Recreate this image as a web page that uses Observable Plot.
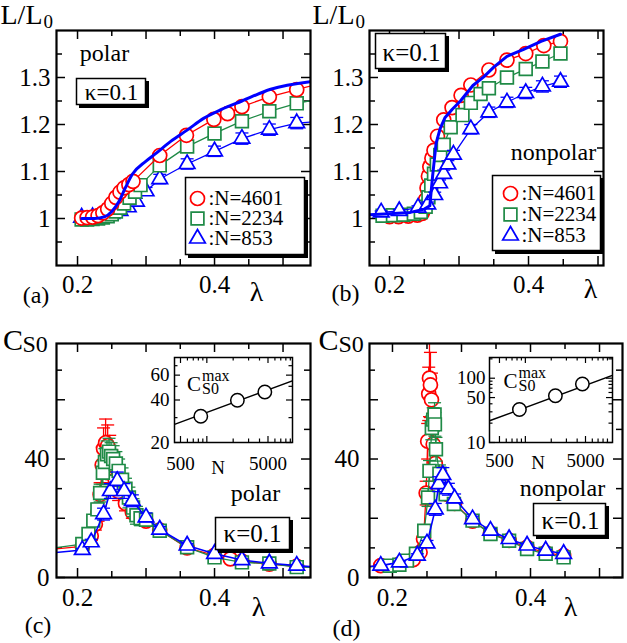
<!DOCTYPE html>
<html><head><meta charset="utf-8">
<script src="https://cdn.jsdelivr.net/npm/d3@7"></script>
<script src="https://cdn.jsdelivr.net/npm/@observablehq/plot@0.6"></script>
<style>
body{margin:0;background:#fff;}
#fig{position:relative;width:627px;height:643px;overflow:hidden;background:#fff;}
</style></head><body><div id="fig"></div>
<script>
// ---------------- data ----------------
// (a) polar, L/L0 vs lambda
const aLam4601 = [0.206,0.214,0.222,0.230,0.237,0.244,0.250,0.256,0.262,0.268,0.275,0.281,0.320,0.359,0.399,0.419,0.440,0.480,0.520,0.560];
const aL4601   = [1.001,1.002,1.003,1.006,1.012,1.020,1.032,1.045,1.056,1.065,1.072,1.079,1.134,1.177,1.211,1.223,1.238,1.259,1.274,1.290];
const aLam2234 = [0.206,0.214,0.222,0.230,0.237,0.244,0.250,0.256,0.262,0.268,0.276,0.284,0.292,0.320,0.360,0.400,0.440,0.480,0.520,0.560];
const aL2234   = [0.998,0.998,0.999,1.000,1.002,1.005,1.009,1.015,1.023,1.032,1.044,1.057,1.071,1.113,1.153,1.181,1.207,1.228,1.245,1.256];
const aLam853  = [0.206,0.222,0.237,0.250,0.262,0.274,0.286,0.300,0.320,0.360,0.400,0.440,0.480,0.520,0.560];
const aL853    = [1.002,1.003,1.005,1.010,1.016,1.024,1.036,1.058,1.084,1.116,1.143,1.170,1.189,1.203,1.207];
const aE853    = [0.002,0.002,0.003,0.004,0.005,0.006,0.007,0.008,0.010,0.011,0.011,0.012,0.012,0.012,0.012];
const aFitLam  = [0.206,0.225,0.240,0.250,0.260,0.270,0.280,0.300,0.315,0.336,0.360,0.384,0.410,0.440,0.482,0.545];
const aFitL    = [1.000,1.000,1.004,1.015,1.035,1.066,1.094,1.122,1.139,1.164,1.188,1.213,1.232,1.250,1.275,1.292];

// (b) nonpolar, L/L0 vs lambda
const bLam4601 = [0.200,0.213,0.227,0.240,0.247,0.250,0.252,0.254,0.256,0.258,0.261,0.264,0.269,0.278,0.290,0.303,0.317,0.343,0.369,0.396,0.422,0.446];
const bL4601   = [1.004,1.004,1.005,1.007,1.011,1.020,1.040,1.065,1.090,1.110,1.128,1.145,1.175,1.210,1.236,1.262,1.284,1.316,1.337,1.351,1.368,1.377];
const bE4601   = [0.002,0.002,0.002,0.003,0.004,0.006,0.008,0.010,0.010,0.010,0.009,0.008,0.007,0.006,0.005,0.004,0.004,0.003,0.003,0.003,0.003,0.003];
const bLam2234 = [0.190,0.205,0.220,0.235,0.245,0.252,0.256,0.260,0.264,0.268,0.273,0.278,0.288,0.305,0.317,0.331,0.343,0.369,0.396,0.420,0.446];
const bL2234   = [1.006,1.007,1.008,1.010,1.014,1.025,1.045,1.070,1.095,1.115,1.135,1.157,1.194,1.220,1.246,1.265,1.277,1.300,1.318,1.334,1.351];
const bLam853  = [0.188,0.214,0.241,0.255,0.265,0.272,0.278,0.284,0.292,0.317,0.343,0.369,0.396,0.420,0.446];
const bL853    = [1.013,1.016,1.023,1.030,1.050,1.075,1.095,1.115,1.136,1.190,1.226,1.247,1.267,1.281,1.291];
const bE853    = [0.003,0.003,0.004,0.005,0.006,0.007,0.008,0.008,0.009,0.010,0.011,0.011,0.012,0.012,0.012];
const bFitLam  = [0.171,0.200,0.230,0.250,0.258,0.262,0.267,0.273,0.280,0.290,0.302,0.320,0.336,0.350,0.369,0.393,0.418,0.446];
const bFitL    = [1.008,1.010,1.013,1.020,1.027,1.090,1.160,1.192,1.215,1.232,1.250,1.283,1.302,1.322,1.345,1.360,1.377,1.392];

// (c) polar, C_S0 vs lambda
const cLam4601 = [0.150,0.207,0.220,0.226,0.230,0.233,0.236,0.238,0.241,0.244,0.247,0.250,0.255,0.260,0.270,0.280,0.300,0.320,0.360,0.400,0.423,0.440,0.480,0.520,0.560];
const cC4601   = [9.3,10.5,14,18,22,28,38,43.5,45.5,44.5,42,38,33,29,25,22,19,16,10,7.5,6.3,5.5,4.5,3.8,3.4];
const cE4601   = [0.3,0.5,1.5,2,3,4,6,7,8,7,6,5,4,3,2.5,2,1.5,1,0.8,0.5,0.5,0.4,0.3,0.3,0.3];
const cLam2234 = [0.150,0.207,0.216,0.223,0.229,0.233,0.237,0.240,0.243,0.246,0.249,0.252,0.256,0.260,0.265,0.270,0.275,0.281,0.286,0.292,0.300,0.320,0.360,0.400,0.440,0.480,0.520,0.560];
const cC2234   = [9.5,11.3,14.7,19.2,23,28.5,35.4,39,41.6,42.5,41,40,38.5,36,33,30,27,23.6,21,20,19.5,15.8,10.2,6.8,5.1,4.7,3.5,3.3];
const cE2234   = [0.3,0.8,1,1.5,2,3,4,4.5,4.5,4.5,4.5,4.5,4,4,4,3.5,3.5,3,3,2.5,2,1.2,0.8,0.6,0.5,0.4,0.4,0.3];
const cLam853  = [0.150,0.207,0.220,0.238,0.248,0.258,0.268,0.280,0.300,0.320,0.360,0.400,0.440,0.480,0.520,0.560];
const cC853    = [8.0,9.3,11.9,21.4,29.2,32.6,29.2,25.9,20.3,16.2,10.8,8.0,5.9,4.8,4.0,3.3];
const cE853    = [0.3,0.5,1,2,2.5,3,2.5,2,1.5,1,0.6,0.5,0.4,0.3,0.3,0.3];

// (d) nonpolar, C_S0 vs lambda
const dLam4601 = [0.150,0.183,0.210,0.230,0.240,0.245,0.2488,0.251,0.2525,0.2536,0.255,0.2565,0.259,0.262,0.270,0.280,0.290,0.316,0.342,0.369,0.395,0.422,0.448];
const dC4601   = [3.4,4.0,4.5,6.0,8.5,13,28.5,46,62,67.3,65,60,45,38.5,33,28,25,19,15,12.5,10.2,8.4,7.4];
const dE4601   = [0.2,0.3,0.4,0.5,1,2,4,6,9,13,11,9,6,4,3,2,1.5,1,0.8,0.5,0.5,0.4,0.3];
const dLam2234 = [0.150,0.196,0.210,0.221,0.234,0.246,0.2515,0.2536,0.257,0.259,0.261,0.2615,0.263,0.268,0.277,0.289,0.316,0.342,0.369,0.395,0.422,0.448];
const dC2234   = [3.4,4.0,4.3,5.7,8.0,15.8,27,36,50.5,53.3,55,51.7,43.3,35,28.1,24.8,19.2,14.7,12.4,9.6,8.0,6.8];
const dE2234   = [0.2,0.3,0.3,0.4,0.6,1.5,3,3.5,4,4,4,4,4,3,2,1.5,1,0.8,0.6,0.5,0.4,0.3];
const dLam853  = [0.150,0.183,0.210,0.236,0.250,0.262,0.267,0.273,0.281,0.290,0.316,0.342,0.369,0.395,0.422,0.448];
const dC853    = [3.4,4.0,5.1,7.4,11.5,23,31.5,34.6,29.8,26.7,19.7,15.8,13.0,10.8,9.1,8.0];
const dE853    = [0.2,0.3,0.4,0.6,1,2,2.5,2.5,2,1.5,1,0.7,0.5,0.5,0.4,0.3];

// insets: C_S0^max vs N
const insetN     = [853, 2234, 4601];
const cMax       = [30.7, 39.8, 45.6];
const cMaxErr    = [1.5, 2.0, 2.0];
const cFitN      = [427, 9530];
const cFitC      = [26.9, 54.8];
const dMax       = [32.6, 53.3, 81.4];
const dMaxErr    = [2.0, 3.0, 4.0];
const dFitN      = [383, 10300];
const dFitC      = [21.8, 111];

// ticks and tick labels
const lamMajor = [0.2,0.3,0.4,0.5], lamMinor = [0.25,0.35,0.45];
const lamLabels = [0.2, 0.4];
const LMajor = [1.0,1.1,1.2,1.3], LMinor = [0.95,1.05,1.15,1.25,1.35];
const LLabels = [1, 1.1, 1.2, 1.3];
const CMajor = [0,20,40,60], CMinor = [10,30,50,70];
const CLabels = [0, 40];
const NMajor = [500,1000,5000], NMinor = [600,700,800,900,2000,3000,4000,6000,7000,8000,9000];
const NLabels = [500, 5000];
const cInYMajor = [20,40,60], cInYMinor = [30,50,70], cInYLabels = [20,40,60];
const dInYMajor = [10,50,100], dInYMinor = [20,30,40,60,70,80,90,200], dInYLabels = [10,50,100];
const legendLabels = [":N=4601", ":N=2234", ":N=853"];

// ---------------- helpers ----------------
const FONT = "Liberation Serif, Times New Roman, serif";
const RED = "#ff0000", GREEN = "#1f8a46", BLUE = "#0000ff";
const fig = document.getElementById("fig");
const cap = {draw(ctx, size){ const r = Math.sqrt(size/Math.PI); ctx.moveTo(-r,0); ctx.lineTo(r,0); }};
const SYM = {circle: ["circle", 7], square: ["square", 7.2], triangle: ["triangle", 5.8]};

function rows(xs, ys, es){ return xs.map((x,i)=>({x, y: ys[i], e: es ? es[i] : 0})); }

function series(xs, ys, es, color, sym, lw=1.3){
  const data = rows(xs, ys, es);
  const m = [Plot.line(data, {x:"x", y:"y", stroke: color, strokeWidth: lw, clip: true})];
  if (es) {
    m.push(Plot.ruleX(data, {x:"x", y1: d=>d.y-d.e, y2: d=>d.y+d.e, stroke: color, strokeWidth: 1.3, clip: true}));
    for (const s of [1,-1]) m.push(Plot.dot(data, {x:"x", y: d=>d.y+s*d.e, symbol: cap, r: 6.5, stroke: color, fill: "none", strokeWidth: 1.3, clip: true}));
  }
  m.push(Plot.dot(data, {x:"x", y:"y", symbol: SYM[sym][0], r: SYM[sym][1], stroke: color, fill: "white", strokeWidth: 1.7, clip: true}));
  return m;
}

function ticks(fw, fh, xMaj, xMin, yMaj, yMin, L=9, l=6, sw=1.5){
  const out = [];
  for (const [arr, len] of [[xMaj, L],[xMin, l]]) {
    out.push(Plot.tickX(arr, {x: d=>d, insetTop: fh-len, stroke:"black", strokeWidth: sw}));
    out.push(Plot.tickX(arr, {x: d=>d, insetBottom: fh-len, stroke:"black", strokeWidth: sw}));
  }
  for (const [arr, len] of [[yMaj, L],[yMin, l]]) {
    out.push(Plot.tickY(arr, {y: d=>d, insetRight: fw-len, stroke:"black", strokeWidth: sw}));
    out.push(Plot.tickY(arr, {y: d=>d, insetLeft: fw-len, stroke:"black", strokeWidth: sw}));
  }
  return out;
}

const TXT = {fontFamily: FONT, fill: "black", lineAnchor: "middle"};
function xLabels(arr, dy, size){ return Plot.text(arr, {x: d=>d, frameAnchor:"bottom", dy, text: d=>String(d), fontSize: size, textAnchor:"middle", ...TXT}); }
function yLabels(arr, dx, size){ return Plot.text(arr, {y: d=>d, frameAnchor:"left", dx, text: d=>String(d), fontSize: size, textAnchor:"end", ...TXT}); }

function makePanel(cfg, build){
  const {left, top, width, height, ml, mr, mt, mb} = cfg;
  const fx = left+ml, fy = top+mt, fw = width-ml-mr, fh = height-mt-mb;
  const T = (s, px, py, size, opts={}) => Plot.text([s], {frameAnchor:"top-left", dx: px-fx, dy: py-fy, text: d=>d, fontSize: size, textAnchor:"middle", ...TXT, ...opts});
  const B = (x1, y1, x2, y2, sh=3) => [
    Plot.frame({insetLeft: x1-fx+sh, insetTop: y1-fy+sh, insetRight: fx+fw-x2-sh, insetBottom: fy+fh-y2-sh, fill:"black", stroke:"black"}),
    Plot.frame({insetLeft: x1-fx, insetTop: y1-fy, insetRight: fx+fw-x2, insetBottom: fy+fh-y2, fill:"white", stroke:"black", strokeWidth: 1.5})
  ];
  const D = (px, py, sym, color) => Plot.dot([0], {frameAnchor:"top-left", dx: px-fx, dy: py-fy, symbol: SYM[sym][0], r: SYM[sym][1], stroke: color, fill:"white", strokeWidth: 1.7});
  const marks = build({fw, fh, T, B, D});
  const svg = Plot.plot({
    width, height, marginLeft: ml, marginRight: mr, marginTop: mt, marginBottom: mb,
    x: {type: cfg.xType || "linear", domain: cfg.xdom, axis: null},
    y: {type: cfg.yType || "linear", domain: cfg.ydom, axis: null},
    style: {background: "transparent", fontFamily: FONT, overflow: "visible"},
    marks
  });
  svg.style.position = "absolute"; svg.style.left = left+"px"; svg.style.top = top+"px";
  fig.appendChild(svg);
}

function legendMarks(T, D, mx, tx, ys, size){
  const syms = ["circle","square","triangle"], cols = [RED, GREEN, BLUE];
  const out = [];
  ys.forEach((y,i) => { out.push(D(mx, y, syms[i], cols[i])); out.push(T(legendLabels[i], tx, y, size, {textAnchor:"start"})); });
  return out;
}

// ---------------- panel (a) ----------------
makePanel({left:0, top:0, width:312, height:320, ml:56, mr:2, mt:30, mb:55, xdom:[0.1693,0.5401], ydom:[0.9,1.4]}, ({fw,fh,T,B,D}) => [
  ...ticks(fw, fh, lamMajor, lamMinor, LMajor, LMinor),
  ...series(aLam853, aL853, aE853, BLUE, "triangle"),
  ...series(aLam2234, aL2234, null, GREEN, "square"),
  ...series(aLam4601, aL4601, null, RED, "circle"),
  Plot.line(rows(aFitLam, aFitL), {x:"x", y:"y", stroke: BLUE, strokeWidth: 3, curve:"monotone-x", clip: true}),
  xLabels(lamLabels, 19, 25),
  yLabels(LLabels, -6, 25),
  T("L/L", 0, 15, 28, {textAnchor:"start"}),
  T("0", 43, 21, 19, {textAnchor:"start"}),
  T("λ", 256, 292, 28),
  T("(a)", 35.5, 295, 24),
  T("polar", 104, 53, 24),
  ...B(76, 78, 145, 104),
  T("κ=0.1", 111, 92, 23),
  ...B(185, 177, 304, 254),
  ...legendMarks(T, D, 197, 208, [198, 218, 238], 21),
  Plot.frame({stroke:"black", strokeWidth: 2.2})
]);

// ---------------- panel (b) ----------------
makePanel({left:312, top:0, width:315, height:320, ml:57, mr:24, mt:30, mb:55, xdom:[0.1712,0.5079], ydom:[0.9,1.4]}, ({fw,fh,T,B,D}) => [
  ...ticks(fw, fh, lamMajor, lamMinor, LMajor, LMinor),
  ...series(bLam4601, bL4601, bE4601, RED, "circle"),
  ...series(bLam2234, bL2234, null, GREEN, "square"),
  ...series(bLam853, bL853, bE853, BLUE, "triangle"),
  Plot.line(rows(bFitLam, bFitL), {x:"x", y:"y", stroke: BLUE, strokeWidth: 3, clip: true}),
  xLabels(lamLabels, 19, 25),
  yLabels(LLabels, -6, 25),
  T("L/L", 312, 15, 28, {textAnchor:"start"}),
  T("0", 355, 21, 19, {textAnchor:"start"}),
  T("λ", 590, 289, 28),
  T("(b)", 345, 293, 24),
  T("nonpolar", 553, 152, 24),
  ...B(375, 33, 445, 68),
  T("κ=0.1", 411, 52, 25),
  ...B(492, 175, 600, 250),
  ...legendMarks(T, D, 510, 521, [193, 214, 235], 21),
  Plot.frame({stroke:"black", strokeWidth: 2.2})
]);

// ---------------- panel (c) ----------------
makePanel({left:0, top:320, width:312, height:323, ml:56, mr:2, mt:23, mb:66, xdom:[0.1693,0.5401], ydom:[0,79]}, ({fw,fh,T,B,D}) => [
  ...ticks(fw, fh, lamMajor, lamMinor, CMajor, CMinor),
  ...series(cLam4601, cC4601, cE4601, RED, "circle"),
  ...series(cLam2234, cC2234, cE2234, GREEN, "square"),
  ...series(cLam853, cC853, cE853, BLUE, "triangle", 1.6),
  xLabels(lamLabels, 20, 25),
  yLabels(CLabels, -7, 25),
  T("C", 12.5, 340, 30),
  T("S0", 22, 344, 24, {textAnchor:"start"}),
  T("λ", 258, 607, 28),
  T("(c)", 37.5, 625, 24),
  T("polar", 255, 493, 24),
  ...B(215, 517, 289, 549),
  T("κ=0.1", 252, 533, 25),
  Plot.frame({stroke:"black", strokeWidth: 2.2})
]);

// ---------------- panel (d) ----------------
makePanel({left:312, top:320, width:315, height:323, ml:57, mr:5, mt:23, mb:66, xdom:[0.1667,0.5333], ydom:[0,79]}, ({fw,fh,T,B,D}) => [
  ...ticks(fw, fh, lamMajor, lamMinor, CMajor, CMinor),
  ...series(dLam4601, dC4601, dE4601, RED, "circle"),
  ...series(dLam2234, dC2234, dE2234, GREEN, "square"),
  ...series(dLam853, dC853, dE853, BLUE, "triangle", 1.6),
  xLabels(lamLabels, 20, 25),
  yLabels(CLabels, -10, 25),
  T("C", 328, 340, 30),
  T("S0", 338, 344, 24, {textAnchor:"start"}),
  T("λ", 570, 607, 28),
  T("(d)", 346, 628, 24),
  T("nonpolar", 562, 488, 24),
  ...B(533, 503, 605, 535),
  T("κ=0.1", 570, 520, 25),
  Plot.frame({stroke:"black", strokeWidth: 2.2})
]);

// ---------------- insets ----------------
function inset(cfg, maxV, maxE, fitN, fitC, yMaj, yMin, yLab, lab){
  makePanel(cfg, ({fw,fh,T}) => {
    const pts = rows(insetN, maxV, maxE);
    return [
      Plot.frame({fill:"white", stroke:"none"}),
      ...ticks(fw, fh, NMajor, NMinor, yMaj, yMin, 6, 3.5, 1.2),
      Plot.line(rows(fitN, fitC), {x:"x", y:"y", stroke:"black", strokeWidth: 1.4, clip: true}),
      Plot.ruleX(pts, {x:"x", y1: d=>d.y-d.e, y2: d=>d.y+d.e, stroke:"black", strokeWidth: 1.2}),
      Plot.dot(pts, {x:"x", y: d=>d.y+d.e, symbol: cap, r: 6, stroke:"black", fill:"none", strokeWidth: 1.2}),
      Plot.dot(pts, {x:"x", y: d=>d.y-d.e, symbol: cap, r: 6, stroke:"black", fill:"none", strokeWidth: 1.2}),
      Plot.dot(pts, {x:"x", y:"y", symbol:"circle", r: 6.7, stroke:"black", fill:"white", strokeWidth: 1.5}),
      xLabels(NLabels, lab.xdy, 19),
      yLabels(yLab, lab.ydx, 19),
      T("N", lab.N[0], lab.N[1], 19),
      T("C", lab.C[0], lab.C[1], 21),
      T("max", lab.sub[0], lab.sup, 16, {textAnchor:"start"}),
      T("S0", lab.sub[0], lab.sub[1], 16, {textAnchor:"start"}),
      Plot.frame({stroke:"black", strokeWidth: 1.5})
    ];
  });
}
inset({left:130, top:345, width:170, height:135, ml:44, mr:8, mt:12, mb:38, xType:"log", yType:"log", xdom:[427,9530], ydom:[20,80]},
  cMax, cMaxErr, cFitN, cFitC, cInYMajor, cInYMinor, cInYLabels,
  {xdy: 21, ydx: -5, N:[217.5,467], C:[193.5,384], sub:[201.5,388], sup:375});
inset({left:445, top:345, width:175, height:135, ml:44, mr:8, mt:12, mb:38, xType:"log", yType:"log", xdom:[383,10300], ydom:[10,210]},
  dMax, dMaxErr, dFitN, dFitC, dInYMajor, dInYMinor, dInYLabels,
  {xdy: 18, ydx: -4, N:[537.5,462], C:[510,380.5], sub:[518,385], sup:372});
</script></body></html>
